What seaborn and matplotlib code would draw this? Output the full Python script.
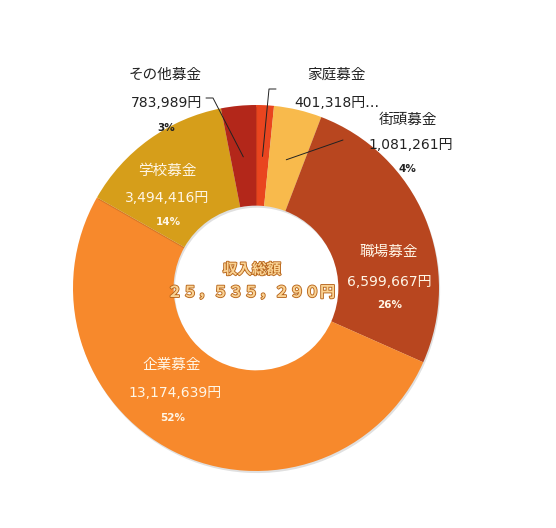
import matplotlib
matplotlib.use("Agg")
import matplotlib.pyplot as plt
import matplotlib.patheffects as pe
from matplotlib.lines import Line2D
import seaborn as sns
import numpy as np

# ---- data ----
categories = ['家庭募金', '街頭募金', '職場募金', '企業募金', '学校募金', 'その他募金']
values = [401318, 1081261, 6599667, 13174639, 3494416, 783989]
value_labels = ['401,318円…', '1,081,261円', '6,599,667円', '13,174,639円', '3,494,416円', '783,989円']
pct_labels = ['', '4%', '26%', '52%', '14%', '3%']
center_title = '収入総額'
center_total = '２５，５３５，２９０円'

colors = ['#E9451F', '#F8BA4C', '#B8461F', '#F7892C', '#D69E1A', '#B3271A']

sns.set_theme(style="white")
plt.rcParams['font.family'] = ['Noto Sans CJK JP', 'DejaVu Sans']
NUMFONT = ['DejaVu Sans', 'Noto Sans CJK JP']

W, H = 556, 528
fig = plt.figure(figsize=(W / 100, H / 100), dpi=100)
fig.patch.set_facecolor('white')

cx, cy, R = 256, 288, 183
ax = fig.add_axes([(cx - R) / W, (H - cy - R) / H, 2 * R / W, 2 * R / H])
wedges, _ = ax.pie(values, colors=colors, startangle=90, counterclock=False,
                   radius=1.0, wedgeprops=dict(width=0.55, linewidth=0))
for w in wedges:
    w.set_path_effects([pe.SimplePatchShadow(offset=(0.8, -1.5), shadow_rgbFace='#000000', alpha=0.12), pe.Normal()])
ax.set_xlim(-1, 1)
ax.set_ylim(-1, 1)
ax.set_aspect('equal')
ax.axis('off')


def px(x, y):
    return x / W, 1 - y / H


def wedge_point(i, r=0.72):
    w = wedges[i]
    mid = np.deg2rad((w.theta1 + w.theta2) / 2)
    disp = ax.transData.transform((r * np.cos(mid), r * np.sin(mid)))
    return fig.transFigure.inverted().transform(disp)


def txt(x, y, s, color='#222222', size=10.5, weight='normal', family=None):
    kw = {}
    if family is not None:
        kw['family'] = family
    fig.text(*px(x, y), s, ha='center', va='center', color=color,
             fontsize=size, fontweight=weight, **kw)


# label layout (pixel centers): name, value, pct
layout = {
    0: [(337, 75), (337, 103), None],
    1: [(408, 120), (411, 145), (407, 169)],
    2: [(389, 252), (389, 282), (390, 305)],
    3: [(172, 365), (175, 393), (173, 418)],
    4: [(167, 171), (167, 198), (168, 222)],
    5: [(165, 75), (167, 103), (166, 128)],
}
inside = {2, 3, 4}
for i, (npos, vpos, ppos) in layout.items():
    col = '#FFF6E6' if i in inside else '#222222'
    txt(*npos, categories[i], color=col, size=10.5)
    txt(*vpos, value_labels[i], color=col, size=10, family=NUMFONT)
    if ppos is not None:
        txt(*ppos, pct_labels[i], color=col, size=7.5, weight='bold', family=NUMFONT)

# leader lines
def leader(points, i):
    end = wedge_point(i)
    xs = [px(*p)[0] for p in points] + [end[0]]
    ys = [px(*p)[1] for p in points] + [end[1]]
    fig.add_artist(Line2D(xs, ys, transform=fig.transFigure, color='#222222', lw=0.7))

leader([(206, 98), (213, 98)], 5)
leader([(276, 89), (269, 89)], 0)
leader([(343, 140)], 1)

# center text
outline = [pe.withStroke(linewidth=1.3, foreground='#B8661C')]
fig.text(*px(252, 269), center_title, ha='center', va='center', color='#FAD394',
         fontsize=10.5, fontweight='bold', path_effects=outline)
fig.text(*px(251, 292), center_total, ha='center', va='center', color='#FAD394',
         fontsize=11, fontweight='bold', path_effects=outline)

fig.savefig('out.png', dpi=100, facecolor='white')
